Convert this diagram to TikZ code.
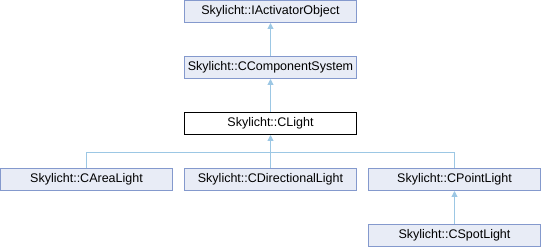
\documentclass[tikz,border=0pt]{standalone}
\usepackage{fontspec}
\setmainfont{Liberation Sans}
\usetikzlibrary{arrows.meta}
\definecolor{boxfill}{RGB}{232,236,246}
\definecolor{boxline}{RGB}{132,153,205}
\definecolor{conn}{RGB}{156,199,228}
\tikzset{
  cls/.style={draw=boxline, fill=boxfill, line width=1pt, minimum width=172pt, minimum height=22pt, inner sep=0pt, font=\fontsize{12.5}{14}\selectfont},
  cur/.style={cls, draw=black, fill=white},
  link/.style={draw=conn, line width=1pt},
  inh/.style={link, -{Triangle[length=6pt,width=6pt]}}
}
\begin{document}
\begin{tikzpicture}[x=1pt,y=-1pt]
\useasboundingbox (0,0) rectangle (542,248);
\node[cls] (iact) at (270.5,11.5) {Skylicht::IActivatorObject};
\node[cls] (ccomp) at (270.5,67.5) {Skylicht::CComponentSystem};
\node[cur] (clight) at (270.5,123.5) {Skylicht::CLight};
\node[cls] (area) at (86.5,179.5) {Skylicht::CAreaLight};
\node[cls] (dir) at (270.5,179.5) {Skylicht::CDirectionalLight};
\node[cls] (point) at (454.5,179.5) {Skylicht::CPointLight};
\node[cls] (spot) at (454.5,235.5) {Skylicht::CSpotLight};
\coordinate (j) at (270.5,153);
\draw[inh] (ccomp.north) -- (iact.south);
\draw[inh] (clight.north) -- (ccomp.south);
\draw[inh] (dir.north) -- (clight.south);
\draw[link] (area.north) |- (j);
\draw[link] (point.north) |- (j);
\draw[inh] (spot.north) -- (point.south);
\end{tikzpicture}
\end{document}
